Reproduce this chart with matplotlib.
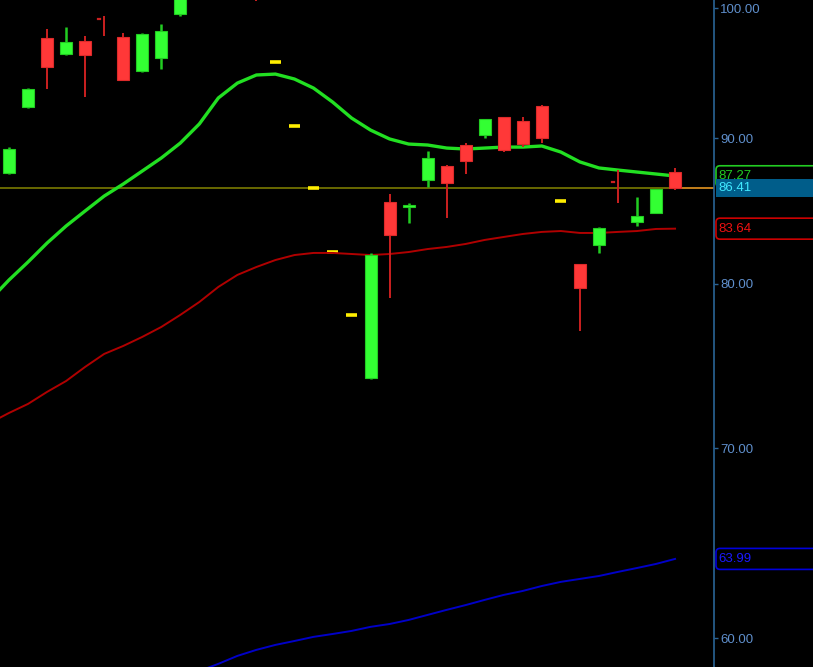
import numpy as np
import matplotlib
matplotlib.use("Agg")
import matplotlib.pyplot as plt
from matplotlib.patches import Rectangle, FancyBboxPatch
from matplotlib.transforms import IdentityTransform

nan = np.nan
# ---- candle data (bar index 0..35) ----
opens  = [87.50, 92.31, 97.62, 96.36, 97.38, 99.14, 97.70, 95.04, 96.05, 99.54,
          nan, nan, nan, 103.0, nan, nan, nan, nan, nan,
          74.10, 85.47, 85.12, 87.01, 88.00, 89.51, 90.24, 91.56, 91.27, 92.38,
          nan, 81.28, 82.54, 86.86, 84.09, 84.71, 87.57]
highs  = [89.36, 93.72, 98.34, 98.50, 97.78, 99.38, 98.02, 98.02, 98.74, 101.60,
          nan, nan, nan, 103.4, nan, nan, nan, nan, nan,
          82.01, 86.02, 85.40, 89.08, 88.05, 89.65, 91.45, 91.60, 91.56, 92.45,
          nan, 81.30, 83.75, 87.71, 85.81, 86.40, 87.86]
lows   = [87.45, 92.25, 93.67, 96.30, 93.06, 97.78, 94.30, 95.00, 95.20, 99.38,
          nan, nan, nan, 100.6, nan, nan, nan, nan, nan,
          74.05, 79.07, 84.02, 86.51, 84.37, 87.43, 90.02, 89.00, 89.36, 89.65,
          nan, 76.98, 82.01, 85.40, 83.82, 84.68, 86.30]
closes = [89.22, 93.67, 95.35, 97.31, 96.28, 99.14, 94.35, 97.94, 98.18, 101.20,
          nan, nan, nan, 101.5, nan, nan, nan, nan, nan,
          81.87, 83.21, 85.26, 88.57, 86.79, 88.36, 91.42, 89.15, 89.58, 90.02,
          nan, 79.71, 83.69, 86.86, 84.50, 86.37, 86.41]

# yellow dash marks
dash_idx = [14, 15, 16, 17, 18, 29]
dash_val = [95.72, 90.90, 86.42, 82.07, 77.99, 85.54]

# moving averages (index -1..35)
ma_idx = list(range(-1, 36))
ma_green = [78.94, 80.23, 81.41, 82.67, 83.82, 84.85, 85.88, 86.72, 87.64, 88.57,
            89.65, 91.05, 92.99, 94.12, 94.74, 94.81, 94.43, 93.74, 92.69, 91.49,
            90.60, 89.95, 89.58, 89.51, 89.29, 89.22, 89.29, 89.36, 89.36, 89.44,
            89.00, 88.29, 87.86, 87.71, 87.57, 87.43, 87.29]
ma_red = [71.45, 72.03, 72.56, 73.27, 73.92, 74.77, 75.56, 76.05, 76.61, 77.23,
          77.99, 78.81, 79.78, 80.56, 81.08, 81.54, 81.87, 82.01, 82.01, 81.94,
          81.87, 81.94, 82.07, 82.27, 82.41, 82.61, 82.88, 83.08, 83.28, 83.42,
          83.48, 83.35, 83.35, 83.42, 83.48, 83.62, 83.64]
blue_idx = list(range(9, 36))
ma_blue = [58.06, 58.43, 58.77, 59.15, 59.44, 59.68, 59.87, 60.07, 60.21, 60.36,
           60.56, 60.70, 60.90, 61.15, 61.40, 61.64, 61.90, 62.15, 62.35, 62.60,
           62.81, 62.96, 63.11, 63.32, 63.52, 63.73, 63.99]

last_price = 86.41
yticks = [60, 70, 80, 90, 100]
label_green, label_red, label_blue = 87.27, 83.64, 63.99

# ---- figure ----
W, H = 813, 667
fig = plt.figure(figsize=(W / 100, H / 100), dpi=100, facecolor="black")
ax = fig.add_axes([0, 0, 713.5 / W, 1.0])
ax.set_facecolor("black")
ax.set_yscale("log")
ax.set_ylim(58.62, 100.68)
ax.set_xlim(-0.473, 37.02)

# moving averages
ax.plot(ma_idx, ma_green, color="#22e022", lw=2.4, zorder=4, solid_capstyle="round")
ax.plot(ma_idx, ma_red, color="#b00000", lw=1.4, zorder=4)
ax.plot(blue_idx, ma_blue, color="#0000c8", lw=1.4, zorder=4)

# last price horizontal line
ax.axhline(last_price, color="#7a7a00", lw=1.2, zorder=2)
ax.plot([35.3, 37.02], [last_price, last_price], color="#d08020", lw=1.2, zorder=2)

# candles
bw = 0.63
for i in range(len(opens)):
    o, h, l, c = opens[i], highs[i], lows[i], closes[i]
    if np.isnan(o):
        continue
    up = c > o
    body_col = "#33ff33" if up else "#ff3838"
    edge_col = "#22cc22" if up else "#dd2a2a"
    wick_col = "#22cc22" if up else "#cc2020"
    ax.plot([i, i], [l, h], color=wick_col, lw=1.8 if up else 1.4, zorder=5,
            solid_capstyle="butt")
    if abs(c - o) < 1e-9:
        ax.plot([i - 0.3, i - 0.2], [o, o], color=wick_col, lw=1.6, zorder=5)
        continue
    lo, hi = min(o, c), max(o, c)
    ax.add_patch(Rectangle((i - bw / 2, lo), bw, hi - lo, facecolor=body_col,
                           edgecolor=edge_col, lw=0.8, zorder=6))

# yellow dashes
for i, v in zip(dash_idx, dash_val):
    ax.plot([i - 0.29, i + 0.29], [v, v], color="#ffee00", lw=2.6, zorder=3,
            solid_capstyle="butt")

# axes styling
for s in ["left", "top", "bottom"]:
    ax.spines[s].set_visible(False)
ax.spines["right"].set_color("#2a6496")
ax.spines["right"].set_linewidth(1.2)
ax.set_xticks([])
ax.yaxis.tick_right()
ax.minorticks_off()
ax.yaxis.set_minor_locator(matplotlib.ticker.NullLocator())
ax.set_yticks(yticks)
ax.set_yticklabels(["%.2f" % t for t in yticks], fontfamily="Liberation Sans",
                   fontsize=9.5, color="#5f8fcc")
ax.tick_params(axis="y", direction="out", length=3, width=1, color="#2a6496", pad=2)

# price labels at right axis
fig.canvas.draw()
def ypix(v):
    return ax.transData.transform((0, v))[1]

def price_box(v, text, tcol, ecol, fcol, zo, h=21):
    y = ypix(v)
    p = FancyBboxPatch((716, y - h / 2), 130, h, boxstyle="round,pad=0,rounding_size=4",
                       facecolor=fcol, edgecolor=ecol, lw=1.2,
                       transform=IdentityTransform(), zorder=zo)
    fig.patches.append(p)
    fig.text(718 / W, y / H, text, color=tcol, fontsize=9.5, fontfamily="Liberation Sans",
             va="center", ha="left", zorder=zo + 0.5)

price_box(label_green, "%.2f" % label_green, "#22cc22", "#22cc22", "black", 10)
price_box(label_red, "%.2f" % label_red, "#ee1111", "#cc0000", "black", 10)
price_box(label_blue, "%.2f" % label_blue, "#1a1aff", "#0000dd", "black", 10)
# current price box (filled)
yl = ypix(last_price)
fig.patches.append(Rectangle((716, yl - 9), 120, 18, facecolor="#005d8a", edgecolor="none",
                             transform=IdentityTransform(), zorder=20))
fig.text(718 / W, yl / H, "%.2f" % last_price, color="#40e8ff", fontsize=9.5,
         fontfamily="Liberation Sans", va="center", ha="left", zorder=21)

fig.savefig("out.png", dpi=100, facecolor="black")
